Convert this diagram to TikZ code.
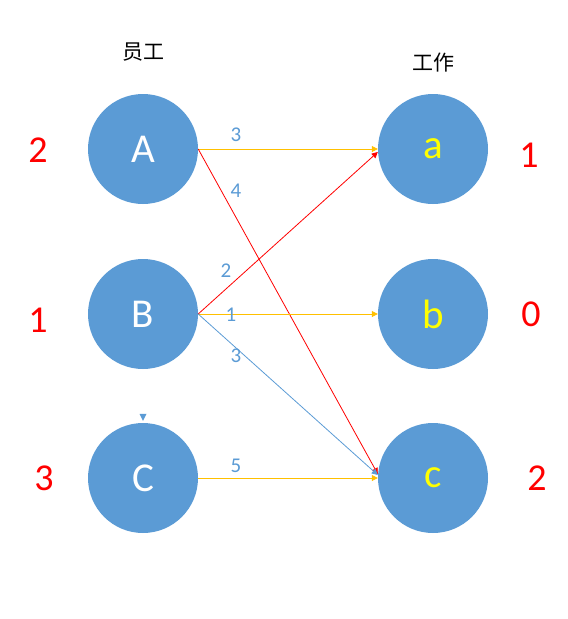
\documentclass[tikz,border=0pt]{standalone}
\usepackage{fontspec}
\setmainfont{Carlito}
\newfontfamily\cjk{Noto Sans CJK SC}
\usetikzlibrary{arrows.meta,calc}
\definecolor{nodeblue}{HTML}{5B9BD5}
\definecolor{labblue}{HTML}{5B9BD5}
\definecolor{edgeorange}{HTML}{FFC000}
\definecolor{edgered}{HTML}{FF0000}
\definecolor{txtyellow}{HTML}{FFFF00}
\tikzset{
  vert/.style={circle,fill=nodeblue,minimum size=110pt,inner sep=0pt,font=\fontsize{41}{43}\selectfont},
  emp/.style={vert,text=white},
  job/.style={vert,text=txtyellow},
  rednum/.style={text=edgered,font=\fontsize{38}{40}\selectfont},
  elab/.style={text=labblue,font=\fontsize{21}{23}\selectfont},
  head/.style={font=\cjk\fontsize{21}{23}\selectfont},
  edge/.style={-{Triangle[length=6pt,width=6pt]},line width=0.8pt},
  oedge/.style={edge,draw=edgeorange},
  redge/.style={edge,draw=edgered},
  bedge/.style={edge,draw=nodeblue},
}
\begin{document}
\begin{tikzpicture}[x=1pt,y=-1pt]
\useasboundingbox (0,0) rectangle (568,619);
\node[emp] (A) at (143,149) {A};
\node[emp] (B) at (143,314) {B};
\node[emp] (C) at (143,478) {C};
\node[job] (a) at (433,149) {a};
\node[job] (b) at (433,314) {b};
\node[job] (c) at (433,478) {c};
\node[head] (h1) at (143,52) {员工};
\node[head] (h2) at (433,63) {工作};
\node[rednum] (nA) at (38,150) {2};
\node[rednum] (nB) at (38,320) {1};
\node[rednum] (nC) at (44,478) {3};
\node[rednum] (na) at (529,155) {1};
\node[rednum] (nb) at (531,314) {0};
\node[rednum] (nc) at (537,478) {2};
\draw[oedge] (A.east) -- (a.west);
\draw[redge] (A.east) -- ($(c.west)+(0,-4)$);
\draw[redge] (B.east) -- ($(a.west)+(0,3)$);
\draw[oedge] (B.east) -- (b.west);
\draw[bedge] (B.east) -- ($(c.west)+(0,-3)$);
\draw[oedge] (C.east) -- (c.west);
\node[elab] (l1) at (236,135) {3};
\node[elab] (l2) at (236,191) {4};
\node[elab] (l3) at (226,271) {2};
\node[elab] (l4) at (231,315) {1};
\node[elab] (l5) at (236,356) {3};
\node[elab] (l6) at (236,466) {5};
\fill[nodeblue] ($(C.north)+(-3.5,-9)$) -- ($(C.north)+(3.5,-9)$) -- ($(C.north)+(0,-2)$) -- cycle;
\end{tikzpicture}
\end{document}
